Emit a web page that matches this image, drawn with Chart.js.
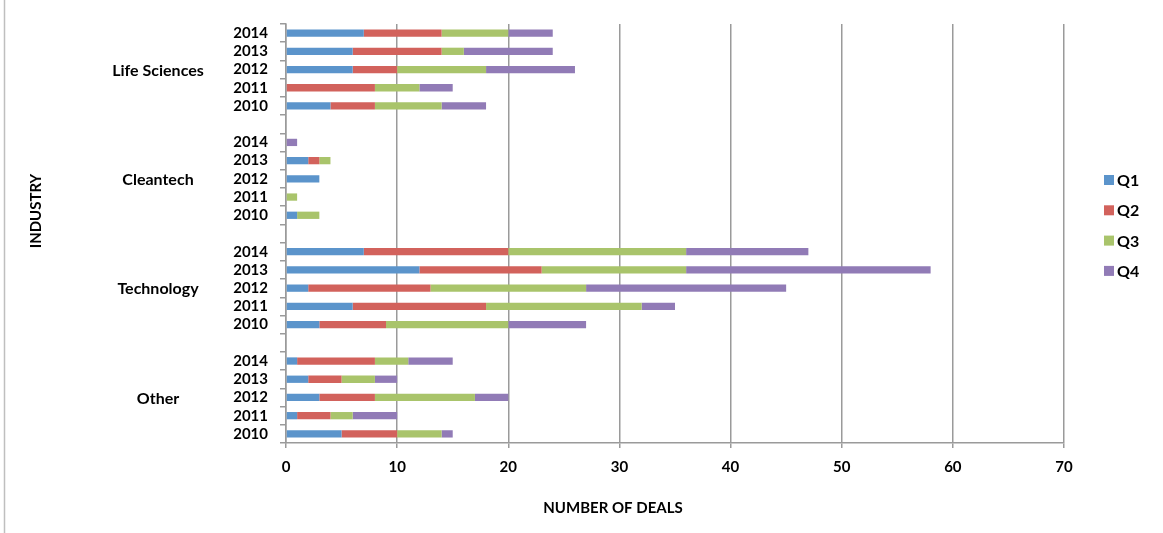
<!DOCTYPE html>
<html>
<head>
<meta charset="utf-8">
<script src="https://cdn.jsdelivr.net/npm/chart.js@4.4.0/dist/chart.umd.min.js"></script>
<style>
    html, body { margin: 0; padding: 0; background: #fff; }
    #wrap { width: 1163px; height: 533px; position: relative; }
</style>
</head>
<body>
<div id="wrap"><canvas id="dealsChart"></canvas></div>
<script>
// Datos: una fila por año (2014 -> 2010, de arriba a abajo) dentro de cada industria
const industries = ['Life Sciences', 'Cleantech', 'Technology', 'Other'];
const years = ['2014', '2013', '2012', '2011', '2010'];
const quarters = ['Q1', 'Q2', 'Q3', 'Q4'];
const q1 = [[7, 6, 6, 0, 4], [0, 2, 3, 0, 1], [7, 12, 2, 6, 3], [1, 2, 3, 1, 5]];
const q2 = [[7, 8, 4, 8, 4], [0, 1, 0, 0, 0], [13, 11, 11, 12, 6], [7, 3, 5, 3, 5]];
const q3 = [[6, 2, 8, 4, 6], [0, 1, 0, 1, 2], [16, 13, 14, 14, 11], [3, 3, 9, 2, 4]];
const q4 = [[4, 8, 8, 3, 4], [1, 0, 0, 0, 0], [11, 22, 18, 3, 7], [4, 2, 3, 4, 1]];
const xTicks = [0, 10, 20, 30, 40, 50, 60, 70];
const colors = ['#5B94CB', '#D2625C', '#A9C46B', '#917BB6'];

const FONT = 'Lato';

// Etiquetas del eje Y: años por industria con una fila vacía entre grupos
const labels = [];
industries.forEach((name, g) => {
    years.forEach(y => labels.push(y));
    if (g < industries.length - 1) labels.push('');
});

function rows(series) {
    const out = [];
    series.forEach((vals, g) => {
        vals.forEach(v => out.push(v));
        if (g < series.length - 1) out.push(null);
    });
    return out;
}

const datasets = [q1, q2, q3, q4].map((s, i) => ({
    label: quarters[i],
    data: rows(s),
    backgroundColor: colors[i],
    borderWidth: 0,
    categoryPercentage: 1,
    barPercentage: 0.4
}));

// Textos extra: nombres de industria, títulos de ejes, leyenda y borde izquierdo
const extras = {
    id: 'extras',
    afterDraw(chart) {
        const ctx = chart.ctx;
        const yScale = chart.scales.y;
        ctx.save();
        ctx.strokeStyle = '#bfbfbf';
        ctx.lineWidth = 1.5;
        ctx.beginPath();
        ctx.moveTo(4.5, 0);
        ctx.lineTo(4.5, chart.height);
        ctx.stroke();

        ctx.fillStyle = '#000';
        ctx.font = 'bold 16px ' + FONT;
        ctx.textAlign = 'center';
        ctx.textBaseline = 'middle';
        industries.forEach((name, g) => {
            const mid = g * (years.length + 1) + 2;
            ctx.fillText(name, 158, yScale.getPixelForValue(mid) + 1);
        });

        ctx.font = 'bold 15px ' + FONT;
        ctx.fillText('NUMBER OF DEALS', 613, 508);
        ctx.save();
        ctx.translate(36, 211);
        ctx.rotate(-Math.PI / 2);
        ctx.fillText('INDUSTRY', 0, 0);
        ctx.restore();

        ctx.font = 'bold 16px ' + FONT;
        ctx.textAlign = 'left';
        chart.data.datasets.forEach((ds, i) => {
            const cy = 180 + i * 30.3;
            ctx.fillStyle = ds.backgroundColor;
            ctx.fillRect(1104, cy - 5, 10, 10);
            ctx.fillStyle = '#000';
            ctx.fillText(ds.label, 1117, cy + 1);
        });
        ctx.restore();
    }
};

document.addEventListener("DOMContentLoaded", function () {
    const ctx = document.getElementById('dealsChart').getContext('2d');
    new Chart(ctx, {
        type: 'bar',
        data: { labels: labels, datasets: datasets },
        plugins: [extras],
        options: {
            indexAxis: 'y',
            responsive: true,
            maintainAspectRatio: false,
            animation: false,
            layout: { padding: { top: 24, right: 99, bottom: 0, left: 0 } },
            plugins: {
                legend: { display: false },
                tooltip: { enabled: false }
            },
            scales: {
                x: {
                    stacked: true,
                    min: xTicks[0],
                    max: xTicks[xTicks.length - 1],
                    afterFit: function (scale) { scale.height = 90; },
                    afterBuildTicks: function (scale) {
                        scale.ticks = xTicks.map(v => ({ value: v }));
                    },
                    grid: { color: '#9a9a9a', lineWidth: 1.5, tickLength: 5 },
                    border: { color: '#9a9a9a', width: 1.5 },
                    ticks: {
                        color: '#000',
                        padding: 10,
                        font: { family: FONT, size: 15, weight: 'bold' }
                    }
                },
                y: {
                    stacked: true,
                    afterFit: function (scale) { scale.width = 286; },
                    grid: { drawOnChartArea: false, color: '#9a9a9a', lineWidth: 1.5, tickLength: 6 },
                    border: { color: '#9a9a9a', width: 1.5 },
                    ticks: {
                        color: '#000',
                        padding: 12,
                        autoSkip: false,
                        font: { family: FONT, size: 15, weight: 'bold' }
                    }
                }
            }
        }
    });
});
</script>
</body>
</html>
